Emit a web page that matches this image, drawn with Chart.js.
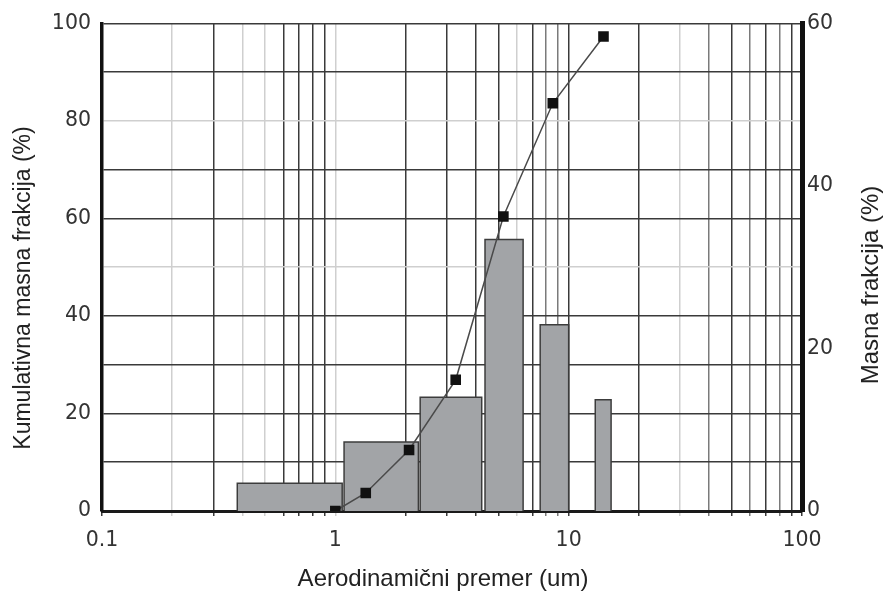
<!DOCTYPE html>
<html>
<head>
<meta charset="utf-8">
<script src="https://cdn.jsdelivr.net/npm/chart.js@4.4.1/dist/chart.umd.min.js"></script>
<style>
    body { margin: 0; background: #fff; }
    #wrap { width: 886px; height: 593px; position: relative; }
</style>
</head>
<body>
<div id="wrap"><canvas id="chart"></canvas></div>
<script>
// Histogram bins (um) and mass fraction (%) on the right axis
const binLow = [0.38, 1.09, 2.31, 4.38, 7.55, 13.0];
const binHigh = [1.07, 2.27, 4.24, 6.38, 10.0, 15.2];
const massFraction = [3.4, 8.5, 14.0, 33.4, 22.9, 13.7];

// Cumulative curve on the left axis
const cumDiameter = [1.0, 1.35, 2.07, 3.28, 5.25, 8.55, 14.1];
const cumFraction = [0, 3.7, 12.5, 26.9, 60.4, 83.6, 97.3];

// Tick labels
const xTickLabels = [0.1, 1, 10, 100];
const yLeftTicks = [0, 20, 40, 60, 80, 100];
const yRightTicks = [0, 20, 40, 60];

// Grid line tones (scanned original has uneven gray lines)
const lightX = [0.2, 0.4, 0.5, 1, 6, 30];
const midX = [8, 9, 40, 60, 80];
const lightY = [50, 80];

const tickFont = { family: 'DejaVu Sans', size: 20.5 };
const titleFamily = 'Liberation Sans';

function near(list, v) {
    return list.some(t => Math.abs(t - v) < 1e-6 * Math.max(1, t));
}

// Each bin becomes a closed outline filled down to zero
const barSets = binLow.map((lo, i) => ({
    type: 'line',
    data: [
        { x: lo, y: 0 },
        { x: lo, y: massFraction[i] },
        { x: binHigh[i], y: massFraction[i] },
        { x: binHigh[i], y: 0 }
    ],
    yAxisID: 'y2',
    borderColor: '#3c3c3c',
    borderWidth: 1.5,
    backgroundColor: '#a2a4a7',
    fill: 'origin',
    pointRadius: 0,
    tension: 0,
    order: 2
}));

const cumSet = {
    type: 'line',
    data: cumDiameter.map((d, i) => ({ x: d, y: cumFraction[i] })),
    yAxisID: 'y',
    borderColor: '#4a4a4a',
    borderWidth: 1.5,
    pointStyle: 'rect',
    pointRadius: 7.5,
    pointBackgroundColor: '#111',
    pointBorderColor: '#111',
    pointBorderWidth: 0,
    fill: false,
    tension: 0,
    order: 0
};

// Axis titles; the vertical ones read bottom to top on both sides
const axisTitles = {
    id: 'axisTitles',
    afterDraw(chart) {
        const ctx = chart.ctx;
        const put = (text, x, y, size, angle) => {
            ctx.save();
            ctx.translate(x, y);
            ctx.rotate(angle);
            ctx.font = size + 'px ' + titleFamily;
            ctx.fillStyle = '#222';
            ctx.textAlign = 'center';
            ctx.textBaseline = 'middle';
            ctx.fillText(text, 0, 0);
            ctx.restore();
        };
        put('Kumulativna masna frakcija (%)', 24, 288, 23, -Math.PI / 2);
        put('Masna frakcija (%)', 871, 285, 24, -Math.PI / 2);
        put('Aerodinamični premer (um)', 443, 579, 24, 0);
    }
};

new Chart(document.getElementById('chart'), {
    type: 'line',
    data: { datasets: [...barSets, cumSet] },
    plugins: [axisTitles],
    options: {
        responsive: true,
        maintainAspectRatio: false,
        animation: false,
        layout: { padding: { top: 18, left: 0, right: 0, bottom: 0 } },
        plugins: { legend: { display: false }, tooltip: { enabled: false } },
        scales: {
            x: {
                type: 'logarithmic',
                min: 0.1,
                max: 100,
                afterBuildTicks(scale) {
                    const ticks = [];
                    xTickLabels.slice(0, -1).forEach(base => {
                        for (let k = 1; k < 10; k++) ticks.push({ value: +(base * k).toPrecision(3) });
                    });
                    ticks.push({ value: xTickLabels[xTickLabels.length - 1] });
                    scale.ticks = ticks;
                },
                afterFit(scale) { scale.height = 82; },
                ticks: {
                    autoSkip: false,
                    maxRotation: 0,
                    font: tickFont,
                    color: '#333',
                    padding: 12,
                    callback: v => near(xTickLabels, v) ? String(v) : ''
                },
                grid: {
                    lineWidth: 1.5,
                    tickLength: 5,
                    color: c => {
                        const v = c.tick ? c.tick.value : 0;
                        if (near(lightX, v)) return '#cfcfcf';
                        if (near(midX, v)) return '#7a7a7a';
                        return '#3a3a3a';
                    }
                },
                border: { color: '#1a1a1a', width: 3 }
            },
            y: {
                position: 'left',
                min: 0,
                max: 100,
                afterBuildTicks(scale) {
                    const ticks = [];
                    for (let v = 0; v <= 100; v += 10) ticks.push({ value: v });
                    scale.ticks = ticks;
                },
                afterFit(scale) { scale.width = 102; },
                ticks: {
                    font: tickFont,
                    color: '#333',
                    padding: 11,
                    callback: v => yLeftTicks.includes(v) ? String(v) : ''
                },
                grid: {
                    lineWidth: 1.5,
                    drawTicks: false,
                    color: c => near(lightY, c.tick.value) ? '#cfcfcf' : '#3a3a3a'
                },
                border: { color: '#111', width: 3.5 }
            },
            y2: {
                position: 'right',
                min: 0,
                max: 60,
                afterBuildTicks(scale) {
                    scale.ticks = yRightTicks.map(v => ({ value: v }));
                },
                afterFit(scale) { scale.width = 84; },
                ticks: {
                    font: tickFont,
                    color: '#333',
                    padding: 5
                },
                grid: { drawOnChartArea: false, drawTicks: false },
                border: { color: '#111', width: 5 }
            }
        }
    }
});
</script>
</body>
</html>
